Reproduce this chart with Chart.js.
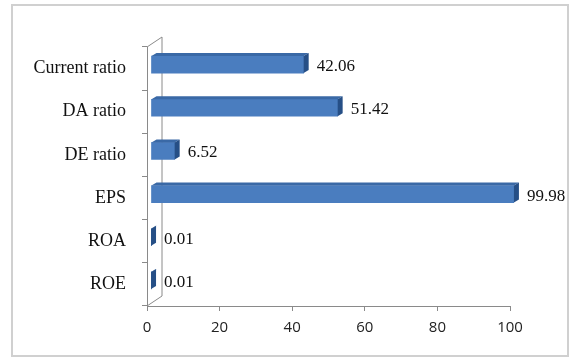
<!DOCTYPE html>
<html>
<head>
<meta charset="utf-8">
<script src="https://cdn.jsdelivr.net/npm/chart.js@4.4.0/dist/chart.umd.min.js"></script>
<style>
html, body { margin: 0; padding: 0; background: #fff; }
#wrap { width: 570px; height: 358px; }
</style>
</head>
<body>
<div id="wrap"><canvas id="ratioChart" width="570" height="358"></canvas></div>
<script>
var categories = ['Current ratio', 'DA ratio', 'DE ratio', 'EPS', 'ROA', 'ROE'];
var ratioValues = [42.06, 51.42, 6.52, 99.98, 0.01, 0.01];
var xTicks = [0, 20, 40, 60, 80, 100];

var axisGray = '#8a8a8a';

// fake 3D: back wall + bar top/side faces + value labels
var depthPlugin = {
    id: 'depth',
    beforeDraw: function (chart) {
        var ctx = chart.ctx;
        ctx.save();
        ctx.strokeStyle = '#d0d0d0';
        ctx.lineWidth = 2;
        ctx.strokeRect(12, 5, 556, 351);
        ctx.restore();
    },
    beforeDatasetsDraw: function (chart) {
        var ctx = chart.ctx;
        var a = chart.chartArea;
        ctx.save();
        ctx.strokeStyle = axisGray;
        ctx.lineWidth = 1;
        ctx.beginPath();
        ctx.moveTo(a.left, a.top);
        ctx.lineTo(a.left + 15, a.top - 10);
        ctx.lineTo(a.left + 15, a.bottom - 10);
        ctx.lineTo(a.left, a.bottom);
        ctx.stroke();
        ctx.restore();

        ctx.save();
        ctx.translate(4, -4);
    },
    afterDatasetsDraw: function (chart) {
        var ctx = chart.ctx;
        var meta = chart.getDatasetMeta(0);
        var dx = 5, dy = 3;
        meta.data.forEach(function (bar) {
            var top = bar.y - bar.height / 2;
            var bottom = bar.y + bar.height / 2;
            ctx.fillStyle = '#3a69a6';
            ctx.beginPath();
            ctx.moveTo(bar.base, top);
            ctx.lineTo(bar.x, top);
            ctx.lineTo(bar.x + dx, top - dy);
            ctx.lineTo(bar.base + dx, top - dy);
            ctx.closePath();
            ctx.fill();

            ctx.fillStyle = '#264f86';
            ctx.beginPath();
            ctx.moveTo(bar.x, top);
            ctx.lineTo(bar.x + dx, top - dy);
            ctx.lineTo(bar.x + dx, bottom - dy);
            ctx.lineTo(bar.x, bottom);
            ctx.closePath();
            ctx.fill();
        });
        ctx.restore();

        ctx.save();
        ctx.font = '17px "Liberation Serif"';
        ctx.fillStyle = '#111';
        ctx.textBaseline = 'middle';
        meta.data.forEach(function (bar, i) {
            ctx.fillText(ratioValues[i].toFixed(2), bar.x + 17, bar.y - 2);
        });
        ctx.restore();
    }
};

var ctx = document.getElementById('ratioChart').getContext('2d');
var ratioChart = new Chart(ctx, {
    type: 'bar',
    data: {
        labels: categories,
        datasets: [{
            data: ratioValues,
            backgroundColor: '#4a7dbf',
            borderWidth: 0,
            barThickness: 17,
            borderSkipped: false
        }]
    },
    options: {
        indexAxis: 'y',
        responsive: false,
        animation: false,
        devicePixelRatio: 1,
        layout: {
            padding: { top: 47, right: 60, left: 0, bottom: 0 }
        },
        plugins: {
            legend: { display: false },
            tooltip: { enabled: false }
        },
        scales: {
            x: {
                min: 0,
                max: 100,
                afterBuildTicks: function (scale) {
                    scale.ticks = xTicks.map(function (v) { return { value: v }; });
                },
                afterFit: function (scale) {
                    scale.height = 52;
                },
                grid: {
                    drawOnChartArea: false,
                    tickLength: 5,
                    color: axisGray
                },
                border: { display: true, color: axisGray, width: 1 },
                ticks: {
                    padding: 8,
                    color: '#222',
                    font: { family: '"Open Sans"', size: 15 }
                }
            },
            y: {
                afterFit: function (scale) {
                    scale.width = 147;
                },
                grid: {
                    drawOnChartArea: false,
                    tickLength: 5,
                    color: axisGray
                },
                border: { display: true, color: axisGray, width: 1 },
                ticks: {
                    padding: 16,
                    color: '#111',
                    font: { family: '"Liberation Serif"', size: 18 }
                }
            }
        }
    },
    plugins: [depthPlugin]
});
</script>
</body>
</html>
